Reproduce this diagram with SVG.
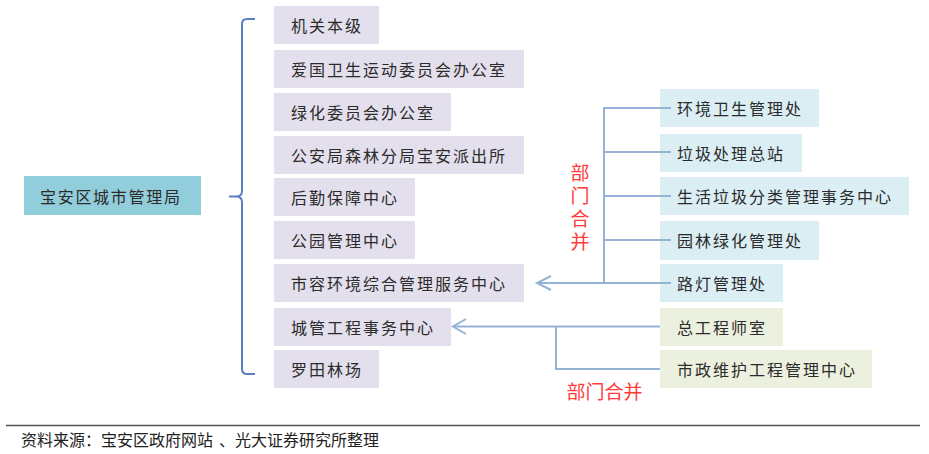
<svg xmlns="http://www.w3.org/2000/svg" width="929" height="454" viewBox="0 0 929 454">
<style>
text{font-family:"Noto Sans CJK SC","Noto Sans",sans-serif;}
.lbl{font-size:16px;fill:#2b2b2b;letter-spacing:2px;dominant-baseline:central;}
.p{fill:#E4DFEC;}
.b{fill:#DAEEF3;}
.g{fill:#EBF1DE;}
.root{fill:#92CDDC;}
.con{fill:none;stroke:#95B3D7;stroke-width:2;}
.br{fill:none;stroke:#5B80C0;stroke-width:2;}
.red{font-size:19px;fill:#FF3B3B;text-anchor:middle;dominant-baseline:central;}
.vred{font-size:19px;fill:#FF3B3B;writing-mode:vertical-rl;letter-spacing:4px;}
.foot{font-size:16px;fill:#222;dominant-baseline:central;}
</style>
<rect width="929" height="454" fill="#fff"/>
<g id="root"><rect class="root" x="24" y="176" width="177" height="39"/><text class="lbl" x="40" y="196" style="letter-spacing:1.7px">宝安区城市管理局</text></g>
<g id="n1"><rect class="p" x="274" y="6" width="105" height="38"/><text class="lbl" x="291" y="25">机关本级</text></g>
<g id="n2"><rect class="p" x="274" y="50" width="250" height="38"/><text class="lbl" x="291" y="69">爱国卫生运动委员会办公室</text></g>
<g id="n3"><rect class="p" x="274" y="93" width="177" height="38"/><text class="lbl" x="291" y="112">绿化委员会办公室</text></g>
<g id="n4"><rect class="p" x="274" y="136" width="250" height="38"/><text class="lbl" x="291" y="155">公安局森林分局宝安派出所</text></g>
<g id="n5"><rect class="p" x="274" y="178" width="141" height="38"/><text class="lbl" x="291" y="197">后勤保障中心</text></g>
<g id="n6"><rect class="p" x="274" y="221" width="141" height="38"/><text class="lbl" x="291" y="240">公园管理中心</text></g>
<g id="n7"><rect class="p" x="274" y="264" width="250" height="38"/><text class="lbl" x="291" y="283">市容环境综合管理服务中心</text></g>
<g id="n8"><rect class="p" x="274" y="308" width="177" height="38"/><text class="lbl" x="291" y="327">城管工程事务中心</text></g>
<g id="n9"><rect class="p" x="274" y="350" width="105" height="38"/><text class="lbl" x="291" y="369">罗田林场</text></g>
<g id="r1"><rect class="b" x="660" y="89" width="159" height="38"/><text class="lbl" x="677" y="108">环境卫生管理处</text></g>
<g id="r2"><rect class="b" x="660" y="134" width="142" height="38"/><text class="lbl" x="677" y="153">垃圾处理总站</text></g>
<g id="r3"><rect class="b" x="660" y="177" width="249" height="38"/><text class="lbl" x="677" y="196">生活垃圾分类管理事务中心</text></g>
<g id="r4"><rect class="b" x="660" y="221" width="159" height="39"/><text class="lbl" x="677" y="240">园林绿化管理处</text></g>
<g id="r5"><rect class="b" x="660" y="264" width="123" height="38"/><text class="lbl" x="677" y="283">路灯管理处</text></g>
<g id="r6"><rect class="g" x="660" y="308" width="123" height="38"/><text class="lbl" x="677" y="327">总工程师室</text></g>
<g id="r7"><rect class="g" x="660" y="350" width="212" height="38"/><text class="lbl" x="677" y="369">市政维护工程管理中心</text></g>
<g id="connectors">
<path class="br" d="M255,19 H247 Q242,19 242,24 V191 Q242,196.5 236,196.5 H229 M236,196.5 Q242,196.5 242,202 V369 Q242,374 247,374 H255"/>
<path class="con" d="M671,108 H604 V283 M604,152 H671 M604,196 H671 M604,240 H671 M671,283 H537"/>
<path class="con" d="M551,276 L537,283 L551,290"/>
<path class="con" d="M660,326.5 H453 M556,326.5 V369 H660"/>
<path class="con" d="M466,319 L453,326.5 L466,334"/>
</g>
<g id="labels">
<text class="vred" x="580" y="163">部门合并</text>
<text class="red" x="604.5" y="390">部门合并</text>
</g>
<line x1="6" y1="425.5" x2="920" y2="425.5" stroke="#555" stroke-width="1.6"/>
<text class="foot" x="21" y="438.5">资料来源：宝安区政府网站<tspan dx="6">、光大证券研究所整理</tspan></text>
</svg>
